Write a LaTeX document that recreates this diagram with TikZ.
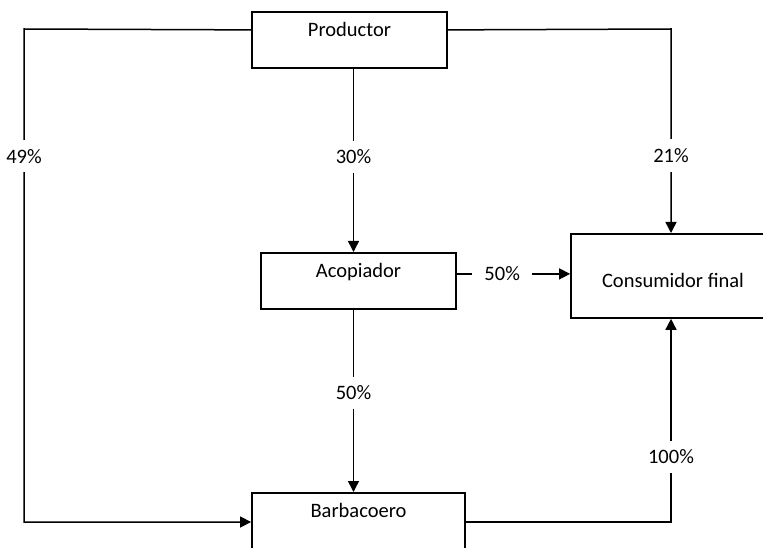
\documentclass[tikz,border=0pt]{standalone}
\usepackage{fontspec}
\setmainfont{Carlito}
\usetikzlibrary{arrows.meta,positioning}

\begin{document}
\begin{tikzpicture}[x=1bp,y=-1bp,font=\fontsize{20.5bp}{24bp}\selectfont,>={Triangle[length=11bp,width=11bp]},
box/.style={draw,line width=1.8bp,inner xsep=0pt,inner ysep=0pt,anchor=north,align=center},
flow/.style={line width=1.5bp},
pct/.style={fill=white,inner xsep=12bp,inner ysep=9bp}]
 \useasboundingbox (0,0) rectangle (763,548);
 \clip (0,0) rectangle (763,548);
 \node[box,minimum width=195bp,text height=24.5bp,text depth=31.5bp] (prod) at (349.5,11) {Productor};
 \node[box,minimum width=195bp,text height=24.5bp,text depth=31.5bp] (acop) at (358.5,252) {Acopiador};
 \node[box,minimum width=204bp,text height=54bp,text depth=30bp] (cons) at (673,233) {Consumidor final};
 \node[box,minimum width=213bp,text height=24.5bp,text depth=60bp] (barb) at (358.5,492) {Barbacoero};
 \coordinate (c49a) at (24,29);
 \coordinate (c49b) at (24,522);
 \coordinate (c21) at (671,29);
 \coordinate (c100) at (671,522);
 \coordinate (c50) at ([yshift=7bp]acop.east);
 % productor to the three others
 \draw[flow,->] ([yshift=10bp]prod.west) -- (c49a) -- node[pct,pos=0.258] {49\%} (c49b) -- (barb.west |- c49b);
 \draw[flow,->] ([xshift=4bp]prod.south) -- node[pct,pos=0.48] {30\%} ([xshift=4bp]prod.south |- acop.north);
 \draw[flow,->] ([yshift=10bp]prod.east) -- (c21) -- node[pct,pos=0.62] {21\%} (c21 |- cons.north);
 % acopiador
 \draw[flow,->] (c50) -- node[pct,pos=0.4] {50\%} (cons.west |- c50);
 \draw[flow,->] ([xshift=-5bp]acop.south) -- node[pct,pos=0.457] {50\%} ([xshift=-5bp]acop.south |- barb.north);
 % barbacoero
 \draw[flow,->] (barb.east |- c100) -- (c100) -- node[pct,pos=0.32] {100\%} (c100 |- cons.south);
\end{tikzpicture}
\end{document}
